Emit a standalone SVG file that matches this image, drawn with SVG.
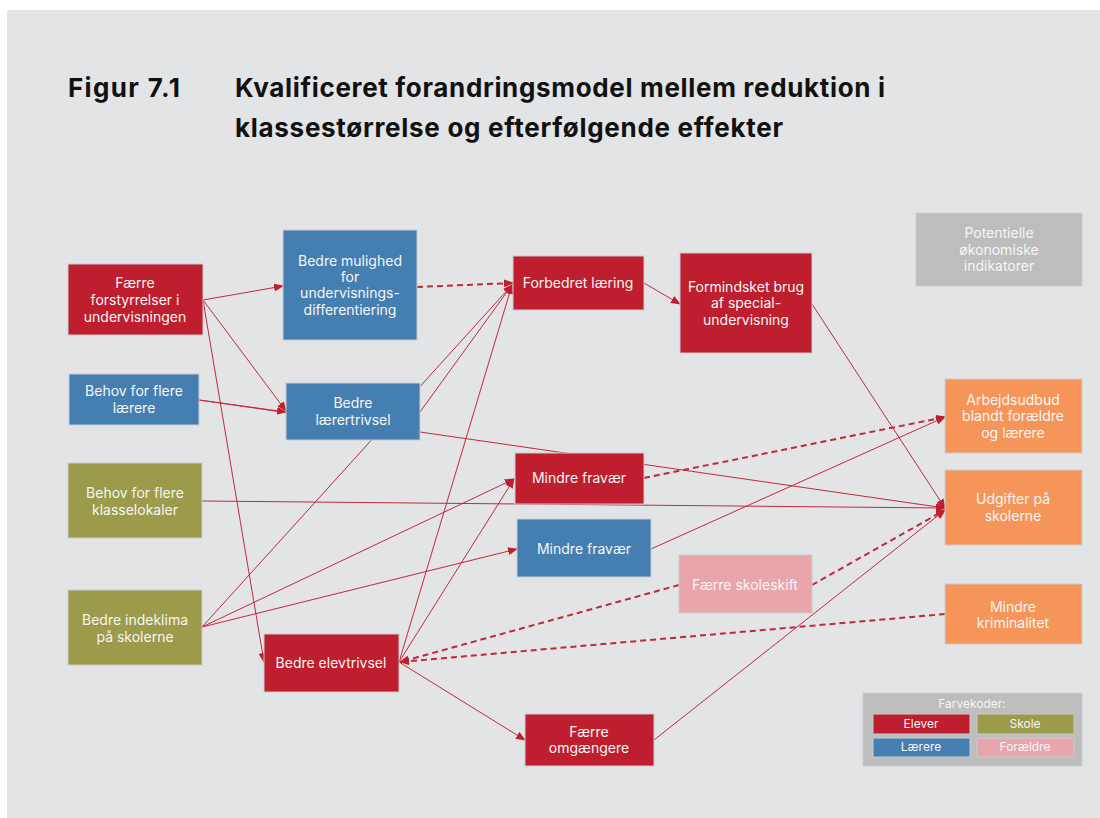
<svg xmlns="http://www.w3.org/2000/svg" width="1100" height="818" viewBox="0 0 1100 818">
  <style>
    .title { font-family: Inter, "Liberation Sans", sans-serif; font-weight: 700; font-size: 26px; fill: #111111; }
    .lbl { font-family: Inter, "Liberation Sans", sans-serif; font-size: 14px; fill: #f6f6f6; text-anchor: middle; }
    .leg { font-family: Inter, "Liberation Sans", sans-serif; font-size: 12px; fill: #f6f6f6; text-anchor: middle; }
    .box { stroke: #c9ccd0; stroke-width: 1; }
    .elev { fill: #be1e2d; }
    .laer { fill: #457fb1; }
    .skole { fill: #9b9b4b; }
    .foraeld { fill: #e8a5ab; }
    .oek { fill: #f5955a; }
    .grey { fill: #bdbdbd; }
    .link { fill: none; stroke: #c4293b; stroke-width: 1; marker-end: url(#arrow); }
    .dash { fill: none; stroke: #c0283a; stroke-width: 2; stroke-dasharray: 6 4; marker-end: url(#arrow); }
  </style>
  <defs>
    <marker id="arrow" markerUnits="userSpaceOnUse" markerWidth="10" markerHeight="8" refX="9" refY="4" orient="auto">
      <path d="M0,0 L10,4 L0,8 z" fill="#be1e2d"/>
    </marker>
  </defs>

  <!-- page background -->
  <rect x="0" y="0" width="1100" height="818" fill="#ffffff"/>
  <rect x="7" y="10" width="1093" height="808" fill="#e2e4e6"/>

  <!-- heading -->
  <text class="title" x="68" y="97" textLength="112" lengthAdjust="spacing">Figur 7.1</text>
  <text class="title" x="235" y="97" textLength="650" lengthAdjust="spacing">Kvalificeret forandringsmodel mellem reduktion i</text>
  <text class="title" x="235" y="137" textLength="548" lengthAdjust="spacing">klassestørrelse og efterfølgende effekter</text>

  <!-- connectors -->
  <g id="connectors">
    <line class="link" x1="203" y1="300" x2="283" y2="286"/>
    <line class="link" x1="203" y1="300" x2="286" y2="411"/>
    <line class="link" x1="203" y1="300" x2="264" y2="662"/>
    <line class="link" x1="199" y1="400" x2="286" y2="412"/>
    <line class="link" x1="199" y1="400" x2="945" y2="508"/>
    <line class="link" x1="202" y1="501" x2="945" y2="508"/>
    <line class="link" x1="202" y1="627" x2="512" y2="285"/>
    <line class="link" x1="202" y1="627" x2="514" y2="479"/>
    <line class="link" x1="202" y1="627" x2="517" y2="549"/>
    <line class="dash" x1="417" y1="287" x2="513" y2="283"/>
    <line class="link" x1="420" y1="412" x2="512" y2="285"/>
    <line class="link" x1="399" y1="662" x2="512" y2="285"/>
    <line class="link" x1="399" y1="662" x2="514" y2="479"/>
    <line class="link" x1="399" y1="662" x2="525" y2="740"/>
    <line class="dash" x1="679" y1="585" x2="400" y2="662"/>
    <line class="dash" x1="945" y1="614" x2="400" y2="662"/>
    <line class="link" x1="644" y1="283" x2="680" y2="304"/>
    <line class="link" x1="812" y1="304" x2="945" y2="508"/>
    <line class="dash" x1="644" y1="478" x2="945" y2="417"/>
    <line class="link" x1="651" y1="549" x2="945" y2="417"/>
    <line class="dash" x1="812" y1="585" x2="945" y2="510"/>
    <line class="link" x1="654" y1="740" x2="945" y2="510"/>
  </g>

  <!-- nodes -->
  <g id="faerre-forstyrrelser">
    <rect class="box elev" x="68" y="264" width="135" height="71"/>
    <text class="lbl" x="135" y="288">Færre</text>
    <text class="lbl" x="135" y="305">forstyrrelser i</text>
    <text class="lbl" x="135" y="322">undervisningen</text>
  </g>
  <g id="behov-laerere">
    <rect class="box laer" x="69" y="374" width="130" height="51"/>
    <text class="lbl" x="134" y="396">Behov for flere</text>
    <text class="lbl" x="134" y="413">lærere</text>
  </g>
  <g id="behov-klasselokaler">
    <rect class="box skole" x="68" y="463" width="134" height="75"/>
    <text class="lbl" x="135" y="498">Behov for flere</text>
    <text class="lbl" x="135" y="515">klasselokaler</text>
  </g>
  <g id="bedre-indeklima">
    <rect class="box skole" x="68" y="590" width="134" height="75"/>
    <text class="lbl" x="135" y="625">Bedre indeklima</text>
    <text class="lbl" x="135" y="642">på skolerne</text>
  </g>
  <g id="bedre-mulighed">
    <rect class="box laer" x="283" y="230" width="134" height="110"/>
    <text class="lbl" x="350" y="266">Bedre mulighed</text>
    <text class="lbl" x="350" y="282">for</text>
    <text class="lbl" x="350" y="298">undervisnings-</text>
    <text class="lbl" x="350" y="315">differentiering</text>
  </g>
  <g id="bedre-laerertrivsel">
    <rect class="box laer" x="286" y="383" width="134" height="57"/>
    <text class="lbl" x="353" y="408">Bedre</text>
    <text class="lbl" x="353" y="425">lærertrivsel</text>
  </g>
  <g id="bedre-elevtrivsel">
    <rect class="box elev" x="264" y="634" width="135" height="58"/>
    <text class="lbl" x="331" y="668">Bedre elevtrivsel</text>
  </g>
  <g id="forbedret-laering">
    <rect class="box elev" x="513" y="256" width="131" height="54"/>
    <text class="lbl" x="578" y="288">Forbedret læring</text>
  </g>
  <g id="formindsket-brug">
    <rect class="box elev" x="680" y="253" width="132" height="100"/>
    <text class="lbl" x="746" y="292">Formindsket brug</text>
    <text class="lbl" x="746" y="308">af special-</text>
    <text class="lbl" x="746" y="325">undervisning</text>
  </g>
  <g id="mindre-fravaer-elever">
    <rect class="box elev" x="515" y="453" width="129" height="51"/>
    <text class="lbl" x="579" y="483">Mindre fravær</text>
  </g>
  <g id="mindre-fravaer-laerere">
    <rect class="box laer" x="517" y="519" width="134" height="58"/>
    <text class="lbl" x="584" y="554">Mindre fravær</text>
  </g>
  <g id="faerre-skoleskift">
    <rect class="box foraeld" x="679" y="555" width="133" height="58"/>
    <text class="lbl" x="745" y="590">Færre skoleskift</text>
  </g>
  <g id="faerre-omgaengere">
    <rect class="box elev" x="525" y="714" width="129" height="52"/>
    <text class="lbl" x="589" y="737">Færre</text>
    <text class="lbl" x="589" y="753">omgængere</text>
  </g>
  <g id="potentielle-indikatorer">
    <rect class="box grey" x="916" y="213" width="166" height="73"/>
    <text class="lbl" x="999" y="238">Potentielle</text>
    <text class="lbl" x="999" y="255">økonomiske</text>
    <text class="lbl" x="999" y="271">indikatorer</text>
  </g>
  <g id="arbejdsudbud">
    <rect class="box oek" x="945" y="379" width="137" height="74"/>
    <text class="lbl" x="1013" y="405">Arbejdsudbud</text>
    <text class="lbl" x="1013" y="421">blandt forældre</text>
    <text class="lbl" x="1013" y="438">og lærere</text>
  </g>
  <g id="udgifter">
    <rect class="box oek" x="945" y="470" width="137" height="75"/>
    <text class="lbl" x="1013" y="504">Udgifter på</text>
    <text class="lbl" x="1013" y="521">skolerne</text>
  </g>
  <g id="mindre-kriminalitet">
    <rect class="box oek" x="945" y="584" width="137" height="60"/>
    <text class="lbl" x="1013" y="612">Mindre</text>
    <text class="lbl" x="1013" y="628">kriminalitet</text>
  </g>

  <!-- colour key -->
  <g id="legend">
    <rect x="863" y="693" width="219" height="73" fill="#bdbdbd" stroke="#c9ccd0" stroke-width="1"/>
    <text class="leg" x="972" y="708">Farvekoder:</text>
    <rect class="box elev" x="873" y="714" width="97" height="20"/>
    <text class="leg" x="921" y="728">Elever</text>
    <rect class="box skole" x="977" y="714" width="97" height="20"/>
    <text class="leg" x="1025" y="728">Skole</text>
    <rect class="box laer" x="873" y="738" width="97" height="19"/>
    <text class="leg" x="921" y="751">Lærere</text>
    <rect class="box foraeld" x="977" y="738" width="97" height="19"/>
    <text class="leg" x="1025" y="751">Forældre</text>
  </g>
</svg>
